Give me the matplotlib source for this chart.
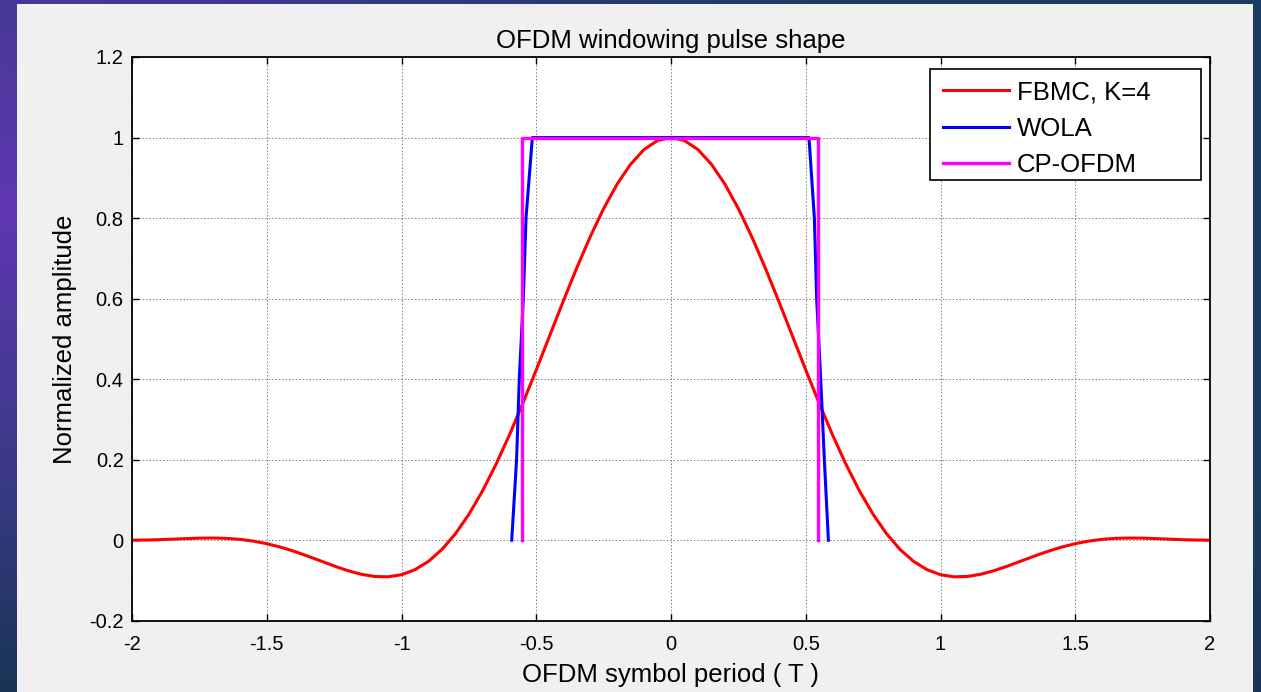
import numpy as np
import matplotlib
matplotlib.use("Agg")
import matplotlib.pyplot as plt
from matplotlib.patches import Rectangle

plt.rcParams['font.family'] = ['Liberation Sans', 'DejaVu Sans']
plt.rcParams['axes.unicode_minus'] = False

# ---------------- data ----------------
fbmc_t = [-2.0, -1.95, -1.9, -1.85, -1.8, -1.75, -1.7, -1.65, -1.6, -1.55,
          -1.5, -1.45, -1.4, -1.35, -1.3, -1.25, -1.2, -1.15, -1.1, -1.05,
          -1.0, -0.95, -0.9, -0.85, -0.8, -0.75, -0.7, -0.65, -0.6, -0.55,
          -0.5, -0.45, -0.4, -0.35, -0.3, -0.25, -0.2, -0.15, -0.1, -0.05,
          0.0,
          0.05, 0.1, 0.15, 0.2, 0.25, 0.3, 0.35, 0.4, 0.45, 0.5,
          0.55, 0.6, 0.65, 0.7, 0.75, 0.8, 0.85, 0.9, 0.95, 1.0,
          1.05, 1.1, 1.15, 1.2, 1.25, 1.3, 1.35, 1.4, 1.45, 1.5,
          1.55, 1.6, 1.65, 1.7, 1.75, 1.8, 1.85, 1.9, 1.95, 2.0]
fbmc_y = [0.0, 0.0003, 0.0012, 0.0025, 0.0039, 0.0050, 0.0053, 0.0045, 0.0020, -0.0023,
          -0.0087, -0.0171, -0.0274, -0.0391, -0.0516, -0.0641, -0.0755, -0.0846, -0.0902, -0.0910,
          -0.0858, -0.0733, -0.0527, -0.0231, 0.0158, 0.0641, 0.1215, 0.1874, 0.2606, 0.3397,
          0.4229, 0.5082, 0.5932, 0.6757, 0.7532, 0.8234, 0.8842, 0.9336, 0.9701, 0.9925,
          1.0,
          0.9925, 0.9701, 0.9336, 0.8842, 0.8234, 0.7532, 0.6757, 0.5932, 0.5082, 0.4229,
          0.3397, 0.2606, 0.1874, 0.1215, 0.0641, 0.0158, -0.0231, -0.0527, -0.0733, -0.0858,
          -0.0910, -0.0902, -0.0846, -0.0755, -0.0641, -0.0516, -0.0391, -0.0274, -0.0171, -0.0087,
          -0.0023, 0.0020, 0.0045, 0.0053, 0.0050, 0.0039, 0.0025, 0.0012, 0.0003, 0.0]

wola_t = [-0.591, -0.573, -0.563, -0.548, -0.538, -0.5145,
          0.512, 0.532, 0.5405, 0.5555, 0.569, 0.584]
wola_y = [0.0, 0.2, 0.4, 0.6, 0.8, 1.0,
          1.0, 0.8, 0.6, 0.4, 0.2, 0.0]

cp_t = [-0.553, -0.553, 0.547, 0.547]
cp_y = [0.0, 1.0, 1.0, 0.0]

series_labels = ["FBMC, K=4", "WOLA", "CP-OFDM"]
xticks = [-2, -1.5, -1, -0.5, 0, 0.5, 1, 1.5, 2]
xtick_labels = ["-2", "-1.5", "-1", "-0.5", "0", "0.5", "1", "1.5", "2"]
yticks = [-0.2, 0, 0.2, 0.4, 0.6, 0.8, 1, 1.2]
ytick_labels = ["-0.2", "0", "0.2", "0.4", "0.6", "0.8", "1", "1.2"]
title = "OFDM windowing pulse shape"
xlabel = "OFDM symbol period ( T )"
ylabel = "Normalized amplitude"

# ---------------- figure ----------------
W, H = 1261, 692
fig = plt.figure(figsize=(W / 100, H / 100), dpi=100)

# gradient slide background
xx = np.linspace(0, 1, W)[None, :]
yy = np.linspace(0, 1, H)[:, None]
purple = np.array([95, 55, 178]) / 255.0
navy = np.array([28, 60, 98]) / 255.0
wx = np.exp(-(xx / 0.4) ** 2)
wy = np.interp(yy, [0, 0.3, 1.0], [0.65, 1.0, 0.0])
w = (wx * wy)[..., None]
img = navy * (1 - w) + purple * w
dark = np.interp(yy, [0, 0.7, 1.0], [0.0, 0.0, 0.12])[..., None]
img = np.clip(img * (1 - dark), 0, 1)
bg = fig.add_axes([0, 0, 1, 1], zorder=-10)
bg.imshow(img, aspect='auto', extent=[0, 1, 0, 1], origin='upper')
bg.axis('off')

# light gray panel
fig.add_artist(Rectangle((17 / W, 0), (1253 - 17) / W, 1 - 4 / H,
                         transform=fig.transFigure, facecolor='#f0f0f0',
                         edgecolor='none', zorder=-5))

ax = fig.add_axes([132 / W, 1 - 620.7 / H, (1210 - 132) / W, (620.7 - 57) / H])
ax.set_facecolor('white')

l1, = ax.plot(fbmc_t, fbmc_y, color='#ff0000', lw=2.2)
l2, = ax.plot(wola_t, wola_y, color='#0000ff', lw=2.2)
l3, = ax.plot(cp_t, cp_y, color='#ff00ff', lw=2.4)

ax.set_xlim(-2, 2)
ax.set_ylim(-0.2, 1.2)
ax.set_xticks(xticks)
ax.set_xticklabels(xtick_labels)
ax.set_yticks(yticks)
ax.set_yticklabels(ytick_labels)
ax.tick_params(direction='in', top=True, right=True, length=5, width=1,
               labelsize=14.5, colors='black')
ax.tick_params(axis='x', pad=10)
ax.tick_params(axis='y', pad=6)
for s in ax.spines.values():
    s.set_linewidth(1.3)
    s.set_color('black')
ax.grid(True, linestyle=(0, (1.5, 2)), color='#808080', linewidth=0.7)
ax.set_axisbelow(True)

ax.set_title(title, fontsize=18.5, pad=6.5)
ax.set_xlabel(xlabel, fontsize=18.5, labelpad=7)
ax.set_ylabel(ylabel, fontsize=18.5, labelpad=8.5)

# legend box (MATLAB style, wide frame)
x0 = (930 - 132) / 1078
x1 = (1201 - 132) / 1078
ytop = (620.7 - 69) / 563.7
ybot = (620.7 - 180) / 563.7
ax.add_patch(Rectangle((x0, ybot), x1 - x0, ytop - ybot, transform=ax.transAxes,
                       facecolor='white', edgecolor='black', lw=1.2, zorder=5))
leg = ax.legend([l1, l2, l3], series_labels, loc='upper left',
                bbox_to_anchor=(x0 + 2 / 1078, ytop), borderaxespad=0, frameon=False,
                fontsize=18.5, handlelength=2.57, handletextpad=0.3,
                borderpad=0.44, labelspacing=0.49)
leg.set_zorder(6)

fig.savefig('out.png', dpi=100)
